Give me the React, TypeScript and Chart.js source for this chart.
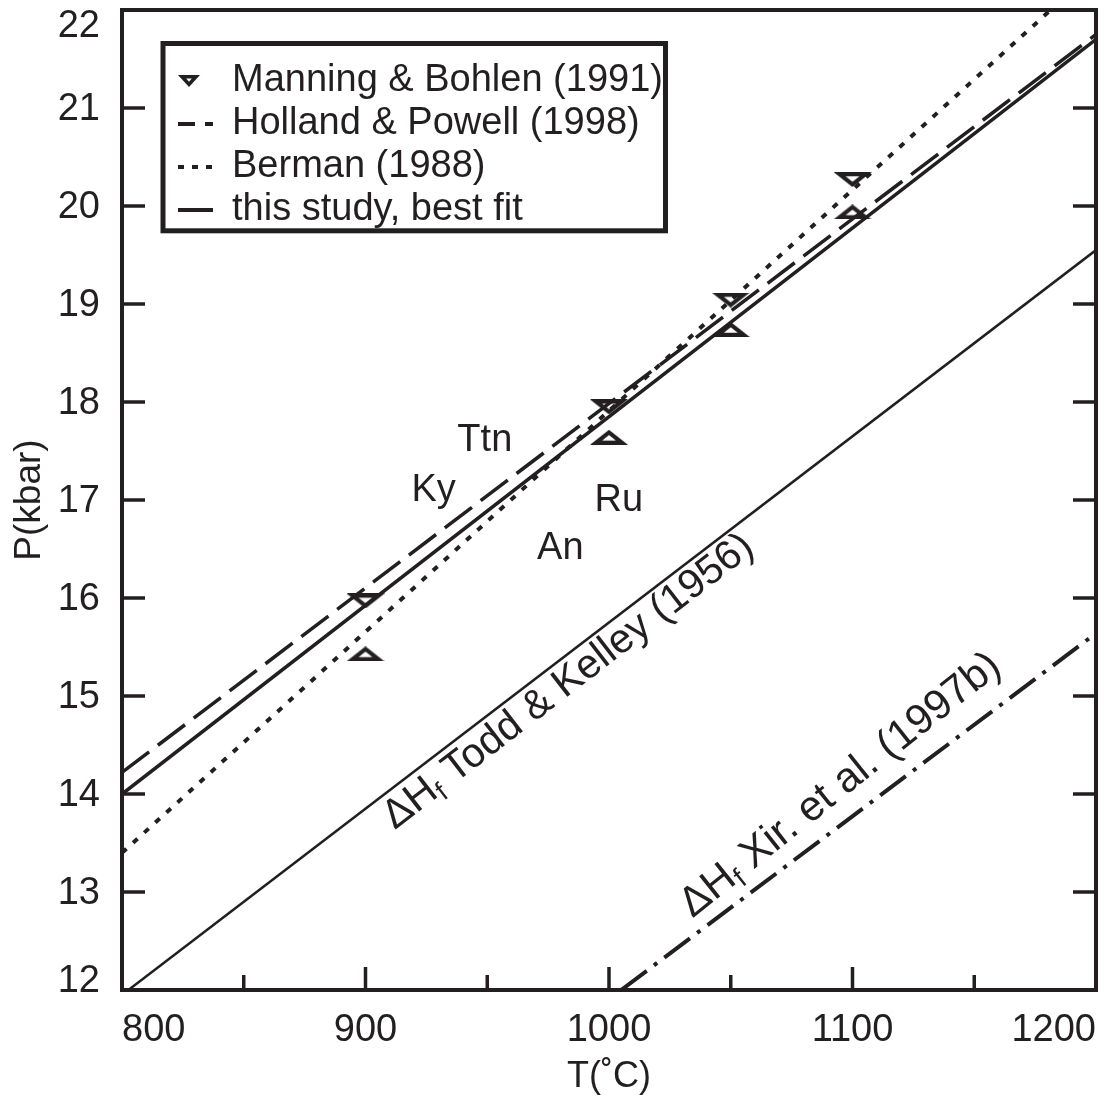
import React, { useEffect, useRef } from 'react';
import { Chart, registerables } from 'chart.js';

Chart.register(...registerables);

const INK = '#231f20';
const FONT = '"Liberation Sans", Arial, Helvetica, sans-serif';

// ---- axes ----
const tempRange = [800, 1200];
const pressureRange = [12, 22];
const xTickValues = [850, 900, 950, 1000, 1050, 1100, 1150];
const xLabelValues = [800, 900, 1000, 1100, 1200];
const yTickValues = [12, 13, 14, 15, 16, 17, 18, 19, 20, 21, 22];

// ---- Manning & Bohlen (1991) brackets ----
const manningT = [900, 900, 1000, 1000, 1050, 1050, 1100, 1100];
const manningP = [15.97, 15.43, 17.95, 17.64, 19.04, 18.74, 20.27, 19.94];
const manningDir = ['down', 'up', 'down', 'up', 'down', 'up', 'down', 'up'];

// ---- reaction lines (end points) ----
const lineT = [800, 1200];
const hollandP = [14.22, 21.75];
const bermanP = [13.4, 22.42];
const bestFitP = [14.0, 21.7];
const toddP = [11.95, 19.55];
const xirT = [1005, 1200];
const xirP = [12.0, 15.64];

const legendLabels = [
  'Manning & Bohlen (1991)',
  'Holland & Powell (1998)',
  'Berman (1988)',
  'this study, best fit',
];

// ---- phase labels ----
const phaseLabels = ['Ttn', 'Ky', 'Ru', 'An'];
const phaseT = [949, 928, 1004, 980];
const phaseP = [17.61, 17.1, 16.99, 16.5];

// rotated line labels, anchored at baseline start
const toddLabelT = 912;
const toddLabelP = 13.63;
const xirLabelT = 1034.3;
const xirLabelP = 12.73;

// ---- styles ----
const legendDashes: number[][] = [[], [17, 10], [6, 8], []];
const legendWidths = [0, 4, 4, 4];

function makeTriangle(w: number, h: number, t: number, down: boolean, canvasW?: number) {
  const cw = canvasW ?? w;
  const c = document.createElement('canvas');
  c.width = cw;
  c.height = h;
  const ctx = c.getContext('2d')!;
  const ox = 0;
  const v = down
    ? [[ox, 0], [ox + w, 0], [ox + w / 2, h]]
    : [[ox, h], [ox + w, h], [ox + w / 2, 0]];
  const s = Math.sqrt((w / 2) ** 2 + h * h);
  const r = (w * h) / (w + 2 * s);
  const inc = down ? [ox + w / 2, r] : [ox + w / 2, h - r];
  const k = Math.max(0, (r - t) / r);
  ctx.fillStyle = INK;
  ctx.beginPath();
  ctx.moveTo(v[0][0], v[0][1]);
  ctx.lineTo(v[1][0], v[1][1]);
  ctx.lineTo(v[2][0], v[2][1]);
  ctx.closePath();
  ctx.fill();
  ctx.globalCompositeOperation = 'destination-out';
  ctx.beginPath();
  v.forEach((p, i) => {
    const x = inc[0] + k * (p[0] - inc[0]);
    const y = inc[1] + k * (p[1] - inc[1]);
    if (i === 0) ctx.moveTo(x, y);
    else ctx.lineTo(x, y);
  });
  ctx.closePath();
  ctx.fill();
  return c;
}

function drawParts(
  ctx: CanvasRenderingContext2D,
  parts: { text: string; size: number; dy: number }[],
  x: number,
  y: number,
  angle: number
) {
  ctx.save();
  ctx.translate(x, y);
  ctx.rotate(angle);
  ctx.textAlign = 'left';
  ctx.textBaseline = 'alphabetic';
  ctx.fillStyle = INK;
  let cx = 0;
  for (const p of parts) {
    ctx.font = `${p.size}px ${FONT}`;
    ctx.fillText(p.text, cx, p.dy);
    cx += ctx.measureText(p.text).width;
  }
  ctx.restore();
}

const decorPlugin = {
  id: 'decor',
  afterLayout(chart: any) {
    const lg = chart.legend;
    if (lg) {
      lg.left = 173;
      lg.top = 57;
      lg.right = 173 + 490;
      lg.bottom = 57 + 500;
      lg.width = 490;
      lg.height = 500;
    }
  },
  afterDatasetsDraw(chart: any) {
    const { ctx, chartArea } = chart;
    const xs = chart.scales.x;
    const ys = chart.scales.y;
    const { left, right, top, bottom } = chartArea;
    ctx.save();
    ctx.strokeStyle = INK;
    ctx.fillStyle = INK;

    // tick marks (inside)
    ctx.lineWidth = 3.5;
    ctx.lineCap = 'butt';
    xTickValues.forEach((v) => {
      const px = xs.getPixelForValue(v);
      const len = v % 100 === 0 ? 23 : 15;
      ctx.beginPath();
      ctx.moveTo(px, bottom);
      ctx.lineTo(px, bottom - len);
      ctx.stroke();
    });
    yTickValues.slice(1, -1).forEach((v) => {
      const py = ys.getPixelForValue(v);
      ctx.beginPath();
      ctx.moveTo(left, py);
      ctx.lineTo(left + 23, py);
      ctx.moveTo(right, py);
      ctx.lineTo(right - 23, py);
      ctx.stroke();
    });

    // frame
    ctx.lineWidth = 4;
    ctx.strokeRect(left, top, right - left, bottom - top);

    // y tick labels
    ctx.font = `38px ${FONT}`;
    ctx.textAlign = 'right';
    ctx.textBaseline = 'alphabetic';
    yTickValues.forEach((v) => {
      const py = ys.getPixelForValue(v);
      let base = py + 12;
      if (v === pressureRange[1]) base = top + 27;
      if (v === pressureRange[0]) base = bottom + 2;
      ctx.fillText(String(v), left - 22, base);
    });

    // phase labels
    ctx.textAlign = 'center';
    ctx.textBaseline = 'middle';
    ctx.font = `38px ${FONT}`;
    phaseLabels.forEach((t, i) => {
      ctx.fillText(t, xs.getPixelForValue(phaseT[i]), ys.getPixelForValue(phaseP[i]));
    });

    // rotated labels, parallel to their lines
    const ang = (T: number[], P: number[]) =>
      Math.atan2(
        ys.getPixelForValue(P[1]) - ys.getPixelForValue(P[0]),
        xs.getPixelForValue(T[1]) - xs.getPixelForValue(T[0])
      );
    drawParts(
      ctx,
      [
        { text: 'ΔH', size: 41, dy: 0 },
        { text: 'f', size: 27, dy: 7 },
        { text: ' Todd & Kelley (1956)', size: 41, dy: 0 },
      ],
      xs.getPixelForValue(toddLabelT),
      ys.getPixelForValue(toddLabelP),
      ang(lineT, toddP) - 0.005
    );
    drawParts(
      ctx,
      [
        { text: 'ΔH', size: 42, dy: 0 },
        { text: 'f', size: 28, dy: 7 },
        { text: ' Xir. et al. (1997b)', size: 42, dy: 0 },
      ],
      xs.getPixelForValue(xirLabelT),
      ys.getPixelForValue(xirLabelP),
      ang(xirT, xirP) - 0.03
    );
    ctx.restore();
  },
  afterDraw(chart: any) {
    const { ctx } = chart;
    ctx.save();
    ctx.strokeStyle = INK;
    ctx.lineWidth = 5;
    ctx.strokeRect(163, 43.5, 665.5 - 163, 230.8 - 43.5);
    ctx.restore();
  },
};

export default function App() {
  const ref = useRef<HTMLCanvasElement>(null);
  useEffect(() => {
    const canvas = ref.current!;
    const downTri = makeTriangle(38, 15, 4.2, true);
    const upTri = makeTriangle(38, 15, 4.2, false);
    const legendTri = makeTriangle(22, 12, 3.6, true, 35);
    const pointStyles = manningDir.map((d) => (d === 'down' ? downTri : upTri));
    const pts = (T: number[], P: number[]) => T.map((t, i) => ({ x: t, y: P[i] }));

    const chart = new Chart(canvas, {
      type: 'scatter',
      data: {
        datasets: [
          {
            label: legendLabels[0],
            data: pts(manningT, manningP),
            pointStyle: pointStyles as any,
            pointRadius: 6,
            borderColor: INK,
            backgroundColor: INK,
          },
          {
            label: legendLabels[1],
            data: pts(lineT, hollandP),
            showLine: true,
            pointRadius: 0,
            borderColor: INK,
            borderWidth: 3.5,
            borderDash: [34, 11],
          },
          {
            label: legendLabels[2],
            data: pts(lineT, bermanP),
            showLine: true,
            pointRadius: 0,
            borderColor: INK,
            borderWidth: 4,
            borderDash: [6, 9],
          },
          {
            label: legendLabels[3],
            data: pts(lineT, bestFitP),
            showLine: true,
            pointRadius: 0,
            borderColor: INK,
            borderWidth: 3.5,
          },
          {
            label: 'Todd & Kelley (1956)',
            data: pts(lineT, toddP),
            showLine: true,
            pointRadius: 0,
            borderColor: INK,
            borderWidth: 2.5,
          },
          {
            label: 'Xirouchakis et al. (1997b)',
            data: pts(xirT, xirP),
            showLine: true,
            pointRadius: 0,
            borderColor: INK,
            borderWidth: 4,
            borderDash: [32, 9, 4, 9],
          },
        ],
      },
      options: {
        responsive: true,
        maintainAspectRatio: false,
        animation: false,
        events: [],
        layout: { padding: { top: 10, right: 12, left: 0, bottom: 0 } },
        scales: {
          x: {
            type: 'linear',
            min: tempRange[0],
            max: tempRange[1],
            grid: { display: false, drawTicks: false },
            border: { display: false },
            ticks: {
              stepSize: 50,
              autoSkip: false,
              maxRotation: 0,
              align: 'inner',
              padding: 18,
              color: INK,
              font: { size: 38, family: FONT },
              callback: (v: any) => (xLabelValues.includes(Number(v)) ? String(v) : ''),
            },
            title: {
              display: true,
              text: 'T(˚C)',
              color: INK,
              font: { size: 36, family: FONT },
              padding: { top: 0, bottom: 0 },
            },
            afterFit: (s: any) => {
              s.height = 109;
            },
          },
          y: {
            type: 'linear',
            min: pressureRange[0],
            max: pressureRange[1],
            grid: { display: false, drawTicks: false },
            border: { display: false },
            ticks: { display: false, stepSize: 1 },
            title: {
              display: true,
              text: 'P(kbar)',
              color: INK,
              font: { size: 37, family: FONT },
              padding: { top: 8, bottom: 0 },
            },
            afterFit: (s: any) => {
              s.width = 122;
            },
          },
        },
        plugins: {
          tooltip: { enabled: false },
          legend: {
            position: 'chartArea',
            align: 'start',
            labels: {
              usePointStyle: true,
              pointStyleWidth: 35,
              padding: 5,
              color: INK,
              font: { size: 38, family: FONT },
              generateLabels: () =>
                legendLabels.map((text, i) => ({
                  text,
                  datasetIndex: i,
                  fillStyle: INK,
                  strokeStyle: INK,
                  fontColor: INK,
                  lineWidth: legendWidths[i],
                  lineDash: legendDashes[i],
                  lineCap: 'butt',
                  pointStyle: i === 0 ? legendTri : 'line',
                  hidden: false,
                })) as any,
            },
          },
        },
      } as any,
      plugins: [decorPlugin],
    });
    return () => chart.destroy();
  }, []);

  return (
    <div style={{ position: 'absolute', left: 0, top: 0, width: 1114, height: 1099, background: '#fff' }}>
      <canvas ref={ref} style={{ display: 'block' }} />
    </div>
  );
}
